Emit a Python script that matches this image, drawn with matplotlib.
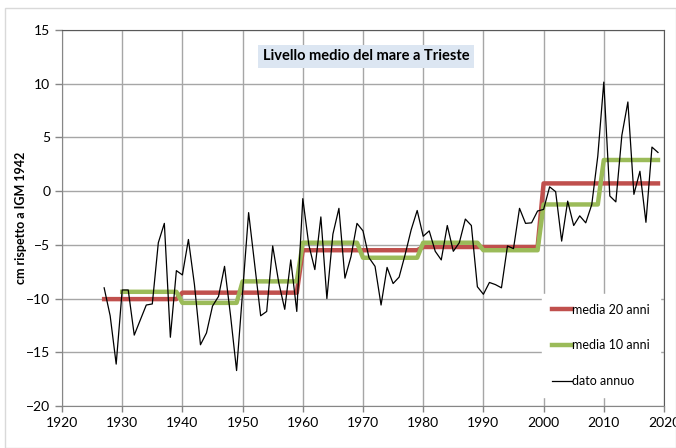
import numpy as np
import matplotlib
matplotlib.use("Agg")
import matplotlib.pyplot as plt
from matplotlib.patches import Rectangle

plt.rcParams['font.family'] = ['Lato', 'DejaVu Sans']

# Annual data (cm relative to IGM 1942)
years = list(range(1927, 2020))
annual = [-9.0, -11.6, -16.1, -9.2, -9.2, -13.4, -12.0, -10.6, -10.5, -4.8,
          -3.0, -13.6, -7.4, -7.8, -4.5, -8.7, -14.3, -13.2, -10.7, -9.8,
          -7.0, -11.6, -16.7, -9.4, -2.0, -6.8, -11.6, -11.2, -5.1, -8.5,
          -11.0, -6.4, -11.2, -0.7, -5.0, -7.3, -2.4, -10.0, -4.0, -1.6,
          -8.1, -6.1, -3.0, -3.7, -6.2, -7.0, -10.6, -7.1, -8.6, -8.0,
          -5.9, -3.6, -1.8, -4.2, -3.7, -5.6, -6.4, -3.2, -5.6, -4.8,
          -2.6, -3.2, -8.9, -9.6, -8.5, -8.7, -9.0, -5.1, -5.35, -1.6,
          -3.0, -2.95, -1.85, -1.7, 0.4, -0.05, -4.65, -0.93, -3.2, -2.3,
          -2.95, -1.25, 3.25, 10.15, -0.45, -1.0, 5.2, 8.3, -0.3, 1.85,
          -2.9, 4.1, 3.6]

# 20-year means (period start, end inclusive, value)
m20_start = [1927, 1940, 1960, 1980, 2000]
m20_end = [1939, 1959, 1979, 1999, 2019]
m20_val = [-10.05, -9.45, -5.5, -5.2, 0.72]

# 10-year means
m10_start = [1930, 1940, 1950, 1960, 1970, 1980, 1990, 2000, 2010]
m10_end = [1939, 1949, 1959, 1969, 1979, 1989, 1999, 2009, 2019]
m10_val = [-9.37, -10.4, -8.4, -4.8, -6.2, -4.8, -5.5, -1.24, 2.9]

def expand(starts, ends, vals):
    xs, ys = [], []
    for s, e, v in zip(starts, ends, vals):
        for y in range(s, e + 1):
            xs.append(y)
            ys.append(v)
    return xs, ys

x20, y20 = expand(m20_start, m20_end, m20_val)
x10, y10 = expand(m10_start, m10_end, m10_val)

fig = plt.figure(figsize=(6.76, 4.48), dpi=100)
ax = fig.add_axes([62/676, 1 - 406/448, (664-62)/676, (406-30)/448])

ax.plot(x20, y20, color='#c0504d', lw=3.2, label='media 20 anni', zorder=3)
ax.plot(x10, y10, color='#9bbb59', lw=3.2, label='media 10 anni', zorder=3)
ax.plot(years, annual, color='black', lw=0.9, label='dato annuo', zorder=4)

ax.set_xlim(1920, 2020)
ax.set_ylim(-20, 15)
ax.set_xticks(range(1920, 2021, 10))
ax.set_yticks(range(-20, 16, 5))
ax.grid(True, color='#a6a6a6', lw=1)
ax.set_axisbelow(True)
ax.tick_params(axis='both', labelsize=10, color='#868686', length=5, width=1)
ax.tick_params(axis='x', length=4, pad=4)
for s in ['left', 'bottom']:
    ax.spines[s].set_color('#868686')
for s in ['top', 'right']:
    ax.spines[s].set_color('#595959')

ax.set_ylabel('cm rispetto a IGM 1942', fontsize=9, fontweight='bold')
ax.yaxis.set_label_coords(-0.058, 0.5)

leg = ax.legend(loc='upper left', bbox_to_anchor=(0.797, 0.299), frameon=True,
                fontsize=9, handlelength=1.6, handletextpad=0.05,
                labelspacing=1.9, borderpad=0.8, borderaxespad=0, fancybox=False)
leg.get_frame().set_edgecolor('white')
leg.get_frame().set_facecolor('white')
leg.get_frame().set_alpha(1)

ax.text(0.505, 0.93, 'Livello medio del mare a Trieste', transform=ax.transAxes,
        ha='center', va='center', fontsize=10.5, fontweight='bold',
        bbox=dict(boxstyle='square,pad=0.3', facecolor='#dce6f2', edgecolor='none'),
        zorder=6)

fig.patches.append(Rectangle((5/676, 0), 1 - 5/676, 1 - 8/448, transform=fig.transFigure,
                             fill=False, edgecolor='#d9d9d9', lw=1))

fig.savefig('out.png', dpi=100)
